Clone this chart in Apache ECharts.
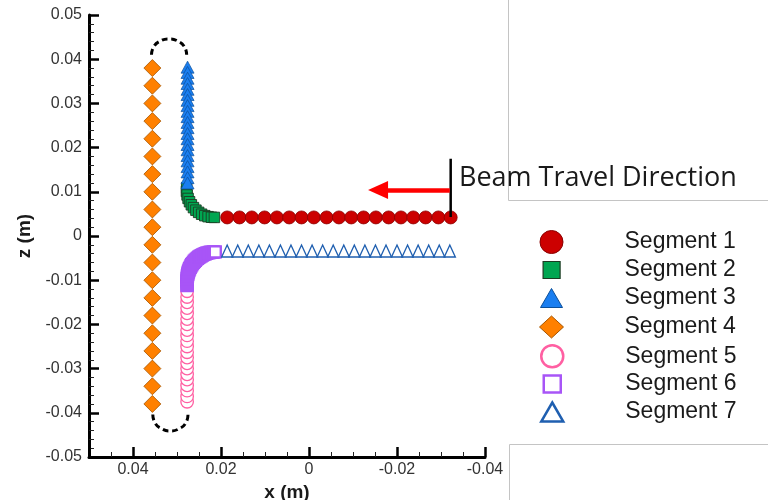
<!DOCTYPE html>
<html>
<head>
<meta charset="utf-8">
<script src="https://cdn.jsdelivr.net/npm/echarts@6/dist/echarts.min.js"></script>
<style>
  html, body { margin: 0; padding: 0; background: #fff; }
  #chart { width: 768px; height: 500px; }
</style>
</head>
<body>
<div id="chart"></div>
<script>
// Tick labels shown on the horizontal axis (x runs from +0.05 on the left to -0.04 on the right)
const xTickLabels = ['0.04', '0.02', '0', '-0.02', '-0.04'];

// Segment 1: straight run along z = +0.0042
const seg1X = [0.0186, 0.0158, 0.0130, 0.0101, 0.0073, 0.0045, 0.0017, -0.0011, -0.0040, -0.0068,
               -0.0096, -0.0124, -0.0152, -0.0181, -0.0209, -0.0237, -0.0265, -0.0294, -0.0322];
const seg1Z = 0.0042;

// Segment 2: bend joining segment 3 to segment 1
const seg2X = [0.0278, 0.02785, 0.02771, 0.02748, 0.02715, 0.02674, 0.02626, 0.02570, 0.02508,
               0.02441, 0.02369, 0.02294, 0.02217, 0.0215];
const seg2Z = [0.0109, 0.01008, 0.00928, 0.00850, 0.00775, 0.00706, 0.00642, 0.00584, 0.00535,
               0.00493, 0.00460, 0.00437, 0.00424, 0.0042];

// Segment 3: vertical run at x = 0.0276
const seg3X = 0.0276;
const seg3Z = [0.0382, 0.0370, 0.0357, 0.0345, 0.0332, 0.0320, 0.0307, 0.0295, 0.0282, 0.0270, 0.0257,
               0.0245, 0.0232, 0.0220, 0.0207, 0.0195, 0.0182, 0.0170, 0.0157, 0.0145, 0.0132, 0.0120];

// Segment 4: return path at x = 0.0356
const seg4X = 0.0356;
const seg4Z = [0.038, 0.034, 0.030, 0.026, 0.022, 0.018, 0.014, 0.010, 0.006, 0.002,
               -0.002, -0.006, -0.010, -0.014, -0.018, -0.022, -0.026, -0.030, -0.034, -0.038];

// Segment 5: vertical run at x = 0.0277 (listed bottom to top)
const seg5X = 0.0277;
const seg5Z = [-0.0375, -0.0363, -0.0350, -0.0338, -0.0325, -0.0313, -0.0300, -0.0288, -0.0275, -0.0263, -0.0250,
               -0.0238, -0.0225, -0.0213, -0.0200, -0.0188, -0.0175, -0.0163, -0.0150, -0.0138, -0.0125];

// Segment 6: bend joining segment 5 to segment 7 (closely spaced points)
const seg6X = [0.0277, 0.0277, 0.0277, 0.0277, 0.0277,
               0.02770, 0.02769, 0.02766, 0.02762, 0.02756, 0.02748, 0.02739, 0.02728, 0.02715, 0.02700,
               0.02684, 0.02667, 0.02648, 0.02627, 0.02606, 0.02583, 0.02558, 0.02533, 0.02506, 0.02479,
               0.02450, 0.02421, 0.02390, 0.02359, 0.02328, 0.02296, 0.02263, 0.02230, 0.02197, 0.02163,
               0.02130];
const seg6Z = [-0.0112, -0.0110, -0.0107, -0.0104, -0.0102,
               -0.01000, -0.00967, -0.00933, -0.00900, -0.00867, -0.00834, -0.00802, -0.00771, -0.00740, -0.00709,
               -0.00680, -0.00651, -0.00624, -0.00597, -0.00572, -0.00547, -0.00524, -0.00503, -0.00482, -0.00463,
               -0.00446, -0.00430, -0.00415, -0.00403, -0.00391, -0.00382, -0.00374, -0.00368, -0.00364, -0.00361,
               -0.00360];

// Segment 7: straight run along z = -0.0034
const seg7X = [0.0186, 0.0162, 0.0138, 0.0114, 0.0090, 0.0065, 0.0041, 0.0017, -0.0007, -0.0031, -0.0055,
               -0.0079, -0.0103, -0.0127, -0.0151, -0.0175, -0.0200, -0.0224, -0.0248, -0.0272, -0.0296, -0.0320];
const seg7Z = -0.0034;

// Dashed turn-around loops at both ends
const loopTopX = [0.0358, 0.0353, 0.0338, 0.0318, 0.0298, 0.0283, 0.0278];
const loopTopZ = [0.0410, 0.0428, 0.0441, 0.0446, 0.0441, 0.0428, 0.0410];
const loopBottomX = [0.0355, 0.0350, 0.0335, 0.0315, 0.0295, 0.0280, 0.0275];
const loopBottomZ = [-0.0404, -0.0423, -0.0436, -0.0441, -0.0436, -0.0423, -0.0404];

// Beam direction annotation (data coordinates)
const markerLineX = -0.0322;
const markerLineZ = [0.0043, 0.0175];
const arrowZ = 0.0104;
const arrowX = [-0.0320, -0.0157];

const zipX = (xs, z) => xs.map(x => [x, z]);
const zipZ = (x, zs) => zs.map(z => [x, z]);
const zipXZ = (xs, zs) => xs.map((x, i) => [x, zs[i]]);

const FONT = "'Liberation Sans', Arial, Helvetica, sans-serif";

const segStyles = [
  { name: 'Segment 1', symbol: 'circle',   size: 13,       color: '#cc0000', border: '#8a0000', bw: 0.8,
    icon: 'circle', lw: 23, lh: 23, lbw: 1 },
  { name: 'Segment 2', symbol: 'rect',     size: 10.5,     color: '#00a651', border: '#1c3b22', bw: 0.9,
    icon: 'rect', lw: 17, lh: 17, lbw: 1.2 },
  { name: 'Segment 3', symbol: 'triangle', size: [13, 12], color: '#1a7ef0', border: '#0b4f9a', bw: 0.7,
    icon: 'triangle', lw: 22, lh: 19, lbw: 1 },
  { name: 'Segment 4', symbol: 'diamond',  size: [17, 17], color: '#ff8000', border: '#a65500', bw: 0.8,
    icon: 'diamond', lw: 24, lh: 22, lbw: 1 },
  { name: 'Segment 5', symbol: 'circle',   size: 12.5,     color: '#ffffff', border: '#ff5fa2', bw: 1.3,
    icon: 'circle', lw: 22, lh: 22, lbw: 2.5 },
  { name: 'Segment 6', symbol: 'rect',     size: 11,       color: '#ffffff', border: '#a855f7', bw: 2.4,
    icon: 'rect', lw: 17, lh: 17, lbw: 2.5 },
  { name: 'Segment 7', symbol: 'triangle', size: [11, 12], color: '#ffffff', border: '#1f5fb0', bw: 1.4,
    icon: 'triangle', lw: 22, lh: 19, lbw: 2.5 }
];

const segData = [
  zipX(seg1X, seg1Z),
  zipXZ(seg2X, seg2Z),
  zipZ(seg3X, seg3Z),
  zipZ(seg4X, seg4Z),
  zipZ(seg5X, seg5Z),
  zipXZ(seg6X, seg6Z),
  zipX(seg7X, seg7Z)
];

const legendRowY = [242, 270, 298, 327, 356, 384, 412];
const legendIconCx = 551;
const legendTextX = 624;

const scatterSeries = segStyles.map((s, i) => ({
  type: 'scatter',
  name: s.name,
  data: segData[i],
  symbol: s.symbol,
  symbolSize: s.size,
  itemStyle: { color: s.color, borderColor: s.border, borderWidth: s.bw, opacity: 1 },
  emphasis: { disabled: true },
  z: 3
}));

const legends = segStyles.map((s, i) => ({
  data: [s.name],
  selectedMode: false,
  orient: 'horizontal',
  left: legendIconCx - s.lw / 2,
  top: legendRowY[i] - 12,
  padding: 0,
  itemGap: 0,
  itemWidth: s.lw,
  itemHeight: s.lh,
  icon: s.icon,
  itemStyle: { color: s.color, borderColor: s.border, borderWidth: s.lbw },
  textStyle: {
    fontFamily: FONT, fontSize: 23, color: '#1a1a1a', lineHeight: 24,
    padding: [0, 0, 0, legendTextX - (legendIconCx + s.lw / 2 + 5)]
  }
}));

const chart = echarts.init(document.getElementById('chart'), null, { renderer: 'canvas' });

const option = {
  animation: false,
  backgroundColor: '#ffffff',
  grid: { left: 89, top: 15, width: 396, height: 442, containLabel: false, outerBoundsMode: 'none' },
  legend: legends,
  xAxis: {
    type: 'value',
    inverse: true,
    min: -0.04,
    max: 0.05,
    interval: 0.02,
    name: 'x (m)',
    nameLocation: 'middle',
    nameGap: 16,
    nameTextStyle: { fontFamily: FONT, fontWeight: 'bold', fontSize: 19, color: '#1a1a1a' },
    axisLine: { onZero: false, lineStyle: { color: '#000', width: 3 } },
    axisTick: { inside: true, length: 10, lineStyle: { color: '#000', width: 2.5 } },
    minorTick: { show: true, splitNumber: 4, length: 5, lineStyle: { color: '#222', width: 1 } },
    splitLine: { show: false },
    axisLabel: {
      margin: 5, fontFamily: FONT, fontSize: 16, color: '#333',
      formatter: v => {
        const label = String(+v.toFixed(2));
        return xTickLabels.indexOf(label) >= 0 ? label : '';
      }
    }
  },
  yAxis: {
    type: 'value',
    min: -0.05,
    max: 0.05,
    interval: 0.01,
    name: 'z (m)',
    nameLocation: 'middle',
    nameGap: 43,
    nameRotate: 90,
    nameTextStyle: { fontFamily: FONT, fontWeight: 'bold', fontSize: 19, color: '#1a1a1a' },
    axisLine: { onZero: false, lineStyle: { color: '#000', width: 3 } },
    axisTick: { inside: true, length: 10, lineStyle: { color: '#000', width: 2.5 } },
    minorTick: { show: true, splitNumber: 5, length: 5, lineStyle: { color: '#222', width: 1 } },
    splitLine: { show: false },
    axisLabel: {
      margin: 7, fontFamily: FONT, fontSize: 16, color: '#333',
      formatter: v => String(+v.toFixed(2))
    }
  },
  series: [
    ...scatterSeries,
    {
      type: 'line', name: 'loopTop', data: zipXZ(loopTopX, loopTopZ), smooth: true,
      symbol: 'none', lineStyle: { color: '#000', width: 3, type: [6, 3.5] }, silent: true, z: 2
    },
    {
      type: 'line', name: 'loopBottom', data: zipXZ(loopBottomX, loopBottomZ), smooth: true,
      symbol: 'none', lineStyle: { color: '#000', width: 3, type: [6, 3.5] }, silent: true, z: 2
    },
    {
      type: 'line', name: 'beamMarker', data: zipZ(markerLineX, markerLineZ),
      symbol: 'none', lineStyle: { color: '#000', width: 2.5 }, silent: true, z: 4
    },
    {
      type: 'line', name: 'beamArrow', data: [], silent: true, z: 4,
      markLine: {
        silent: true,
        symbol: ['none', 'triangle'],
        symbolSize: [18, 20],
        label: { show: false },
        lineStyle: { color: '#ff0000', width: 4.5, type: 'solid' },
        data: [[{ coord: [arrowX[0], arrowZ] }, { coord: [arrowX[1], arrowZ] }]]
      }
    }
  ],
  graphic: [
    {
      type: 'polyline', silent: true,
      shape: { points: [[508.5, 0], [508.5, 200.5], [768, 200.5]] },
      style: { stroke: '#c4c4c4', lineWidth: 1, fill: null }
    },
    {
      type: 'polyline', silent: true,
      shape: { points: [[509.5, 500], [509.5, 444.5], [768, 444.5]] },
      style: { stroke: '#c4c4c4', lineWidth: 1, fill: null }
    },
    {
      type: 'text', silent: true, x: 459, y: 178, z: 10,
      style: {
        text: 'Beam Travel Direction', fontFamily: "'Open Sans', 'Noto Sans', sans-serif",
        fontSize: 27, fill: '#1a1a1a', verticalAlign: 'middle', align: 'left'
      }
    }
  ]
};

chart.setOption(option);
</script>
</body>
</html>
